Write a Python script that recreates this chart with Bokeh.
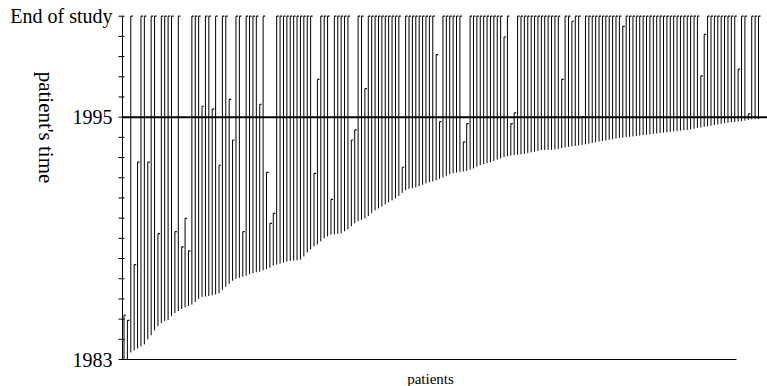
import numpy as np
from bokeh.plotting import figure
from bokeh.models import Range1d
from bokeh.embed import file_html
from bokeh.resources import INLINE
from bokeh.core.properties import value

# ---- data ----
entry_year = [
    1983.00, 1983.00, 1983.35, 1983.45, 1983.55, 1983.65, 1983.75, 1984.00, 1984.20, 1984.45,
    1984.65, 1984.80, 1984.90, 1984.95, 1985.15, 1985.30, 1985.40, 1985.50, 1985.58, 1985.65,
    1985.72, 1985.85, 1986.00, 1986.10, 1986.12, 1986.14, 1986.18, 1986.22, 1986.28, 1986.45,
    1986.60, 1986.75, 1986.90, 1987.00, 1987.05, 1987.10, 1987.15, 1987.22, 1987.28, 1987.32,
    1987.35, 1987.42, 1987.48, 1987.55, 1987.65, 1987.70, 1987.75, 1987.80, 1987.85, 1987.88,
    1987.90, 1987.92, 1987.95, 1988.10, 1988.30, 1988.45, 1988.60, 1988.70, 1988.85, 1989.00,
    1989.10, 1989.18, 1989.20, 1989.22, 1989.25, 1989.35, 1989.45, 1989.60, 1989.75, 1989.85,
    1989.92, 1989.98, 1990.10, 1990.25, 1990.38, 1990.48, 1990.58, 1990.68, 1990.78, 1990.88,
    1990.98, 1991.10, 1991.25, 1991.38, 1991.45, 1991.48, 1991.52, 1991.58, 1991.65, 1991.72,
    1991.78, 1991.82, 1991.88, 1991.95, 1992.02, 1992.10, 1992.18, 1992.22, 1992.26, 1992.29,
    1992.31, 1992.34, 1992.40, 1992.46, 1992.55, 1992.62, 1992.68, 1992.72, 1992.77, 1992.83,
    1992.90, 1992.96, 1993.02, 1993.07, 1993.10, 1993.12, 1993.14, 1993.16, 1993.18, 1993.22,
    1993.26, 1993.29, 1993.33, 1993.37, 1993.37, 1993.38, 1993.38, 1993.40, 1993.43, 1993.47,
    1993.50, 1993.53, 1993.56, 1993.58, 1993.60, 1993.63, 1993.66, 1993.69, 1993.72, 1993.76,
    1993.79, 1993.82, 1993.85, 1993.88, 1993.91, 1993.94, 1993.97, 1993.99, 1994.01, 1994.03,
    1994.05, 1994.07, 1994.09, 1994.11, 1994.13, 1994.15, 1994.17, 1994.19, 1994.21, 1994.23,
    1994.25, 1994.27, 1994.29, 1994.31, 1994.33, 1994.35, 1994.37, 1994.40, 1994.43, 1994.46,
    1994.49, 1994.52, 1994.55, 1994.58, 1994.61, 1994.64, 1994.67, 1994.70, 1994.72, 1994.74,
    1994.76, 1994.78, 1994.80, 1994.83, 1994.86, 1994.89, 1994.90, 1994.91,
]

early_exit_patient = [0, 1, 3, 4, 7, 10, 15, 17, 18, 19,
                      23, 26, 28, 31, 32, 35, 40, 42, 43, 44,
                      56, 57, 61, 67, 68, 71, 82, 92, 93, 100,
                      101, 112, 114, 115, 129, 132, 135, 147, 170, 171,
                      181, 184]
early_exit_year = [1985.19, 1984.94, 1987.70, 1992.77, 1992.77, 1989.23, 1989.33, 1988.58, 1989.99, 1988.38,
                   1995.54, 1995.40, 1992.62, 1995.88, 1993.87, 1989.33, 1995.64, 1992.27, 1989.74, 1990.24,
                   1992.22, 1996.87, 1990.93, 1993.87, 1994.37, 1996.41, 1992.52, 1998.10, 1994.78, 1993.78,
                   1994.68, 1998.97, 1994.68, 1995.21, 1996.87, 1999.75, 1995.03, 1999.50, 1997.04, 1999.10,
                   1997.38, 1995.16]

START_YEAR = 1983
END_OF_STUDY = 2000
REFERENCE_YEAR = 1995
y_ticks = list(range(1983, 2001))
y_label_ticks = [1983, 1995, 2000]
y_label_texts = ["1983", "1995", "End of study"]
x_title = "patients"
y_title = "patient's time"

# ---- layout (pixels of the canvas) ----
W, H = 767, 386
AXIS_PX = 122.0        # y axis position
FIRST_PX = 123.5       # first patient
STEP_PX = 3.393        # spacing between patients
TOP_PX, BOTTOM_PX = 15.7, 359.0
XAXIS_END_PX = 736.0
FONT = "Liberation Serif"

px_per_year = (BOTTOM_PX - TOP_PX) / (END_OF_STUDY - START_YEAR)
x_start = -FIRST_PX / STEP_PX
x_end = x_start + W / STEP_PX
y_top = END_OF_STUDY + TOP_PX / px_per_year
y_bottom = y_top - H / px_per_year


def dx(px):
    return px / STEP_PX


def to_x(px):
    return x_start + px / STEP_PX


def to_y(py):
    return y_top - py / px_per_year


# ---- build table ----
n = len(entry_year)
patient = np.arange(n)
exit_year = np.full(n, float(END_OF_STUDY))
exit_year[early_exit_patient] = early_exit_year
entry = np.array(entry_year)

p = figure(width=W, height=H, output_backend="svg", toolbar_location=None,
           x_range=Range1d(x_start, x_end), y_range=Range1d(y_bottom, y_top),
           x_axis_location=None, y_axis_location=None, min_border=0)
p.outline_line_color = None
p.grid.visible = False
p.background_fill_color = "white"
p.border_fill_color = "white"

axis_x = to_x(AXIS_PX)

# y axis line, ticks and labels
p.segment(x0=[axis_x], y0=[START_YEAR], x1=[axis_x], y1=[END_OF_STUDY], line_color="black", line_width=1)
ticks = np.array(y_ticks, dtype=float)
p.segment(x0=np.full(len(ticks), axis_x - dx(4)), y0=ticks,
          x1=np.full(len(ticks), axis_x + dx(2)), y1=ticks, line_color="black", line_width=1)
p.text(x=np.full(len(y_label_ticks), axis_x - dx(10)), y=y_label_ticks, text=y_label_texts,
       text_font=value(FONT), text_font_size="20px", text_align="right", text_baseline="middle",
       text_color="black")

# x axis line
p.segment(x0=[axis_x], y0=[START_YEAR], x1=[to_x(XAXIS_END_PX)], y1=[START_YEAR],
          line_color="black", line_width=1)

# reference line at 1995
p.segment(x0=[axis_x], y0=[REFERENCE_YEAR], x1=[x_end], y1=[REFERENCE_YEAR], line_color="black", line_width=2)

# patient follow-up lines
p.segment(x0=patient, y0=entry, x1=patient, y1=exit_year, line_color="black", line_width=1)
# end marks
p.segment(x0=patient, y0=exit_year, x1=patient + dx(2), y1=exit_year, line_color="black", line_width=1.2)

# axis titles
p.text(x=[to_x(430)], y=[to_y(378)], text=[x_title], text_font=value(FONT), text_font_size="15px",
       text_align="center", text_baseline="middle", text_color="black")
p.text(x=[to_x(45)], y=[to_y(127)], text=[y_title], text_font=value(FONT), text_font_size="21px",
       text_align="center", text_baseline="middle", angle=-np.pi / 2, text_color="black")

open("out.html", "w").write(file_html(p, INLINE))
